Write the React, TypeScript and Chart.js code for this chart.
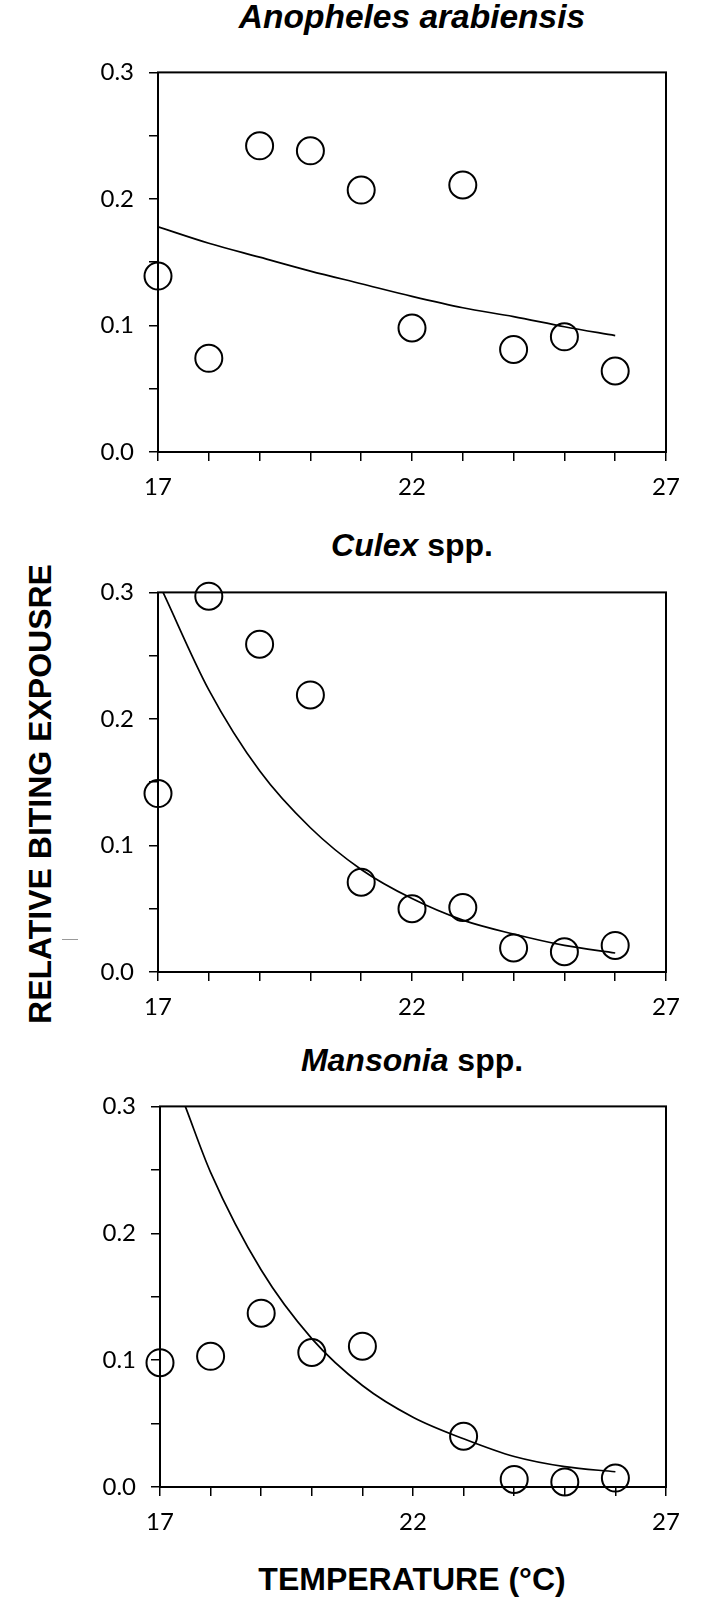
import React, { useEffect, useRef } from "react";
import { Chart, registerables } from "chart.js";

Chart.register(...registerables);

// ---- data ----
const TEMPS = [17, 18, 19, 20, 21, 22, 23, 24, 25, 26];

const ANOPHELES_VALUES = [0.139, 0.074, 0.242, 0.238, 0.207, 0.098, 0.211, 0.081, 0.091, 0.064];
const ANOPHELES_FIT_X = [17, 18, 19, 20, 21, 22, 23, 24, 25, 26];
const ANOPHELES_FIT_Y = [0.178, 0.165, 0.154, 0.143, 0.133, 0.123, 0.114, 0.107, 0.099, 0.092];

const CULEX_VALUES = [0.141, 0.297, 0.259, 0.219, 0.071, 0.05, 0.051, 0.019, 0.016, 0.021];
const CULEX_FIT_X = [17.1, 18, 19, 20, 21, 22, 23, 24, 25, 26];
const CULEX_FIT_Y = [0.3, 0.223, 0.159, 0.114, 0.081, 0.058, 0.041, 0.03, 0.021, 0.015];

const MANSONIA_TEMPS = [17, 18, 19, 20, 21, 23, 24, 25, 26];
const MANSONIA_VALUES = [0.098, 0.103, 0.137, 0.106, 0.111, 0.04, 0.006, 0.004, 0.007];
const MANSONIA_FIT_X = [17.5, 18, 19, 20, 21, 22, 23, 24, 25, 26];
const MANSONIA_FIT_Y = [0.3, 0.248, 0.171, 0.117, 0.08, 0.055, 0.038, 0.024, 0.016, 0.012];

const X_TICK_LABELS = [17, 22, 27];
const Y_TICK_LABELS = [0, 0.1, 0.2, 0.3];

const X_MIN = 17;
const X_MAX = 27;
const Y_MIN = 0;
const Y_MAX = 0.3;

const TICK_FONT = "Lato";
const TITLE_FONT = "'Liberation Sans', Arial, sans-serif";

const framePlugin = {
  id: "frameBox",
  afterDatasetsDraw(chart: any) {
    const { ctx, chartArea } = chart;
    ctx.save();
    ctx.strokeStyle = "#000";
    ctx.lineWidth = 2;
    ctx.strokeRect(
      chartArea.left,
      chartArea.top,
      chartArea.right - chartArea.left,
      chartArea.bottom - chartArea.top
    );
    ctx.restore();
  },
};

type PanelProps = {
  xs: number[];
  ys: number[];
  fitX: number[];
  fitY: number[];
  top: number;
  plotLeft: number;
  plotRight: number;
  plotHeight: number;
};

const PAD_TOP = 24;
const X_AXIS_H = 52;
const Y_AXIS_W = 80;
const CANVAS_W = 709;

function Panel({ xs, ys, fitX, fitY, top, plotLeft, plotRight, plotHeight }: PanelProps) {
  const ref = useRef<HTMLCanvasElement | null>(null);
  const height = PAD_TOP + plotHeight + X_AXIS_H;

  useEffect(() => {
    if (!ref.current) return;
    const points = xs.map((x, i) => ({ x, y: ys[i] }));
    const fit = fitX.map((x, i) => ({ x, y: fitY[i] }));
    const pad = {
      left: plotLeft - Y_AXIS_W,
      right: CANVAS_W - plotRight,
      top: PAD_TOP,
      bottom: 0,
    };
    const chart = new Chart(ref.current, {
      type: "scatter",
      data: {
        datasets: [
          {
            data: fit,
            showLine: true,
            borderColor: "#000",
            borderWidth: 1.7,
            pointRadius: 0,
            pointHoverRadius: 0,
            cubicInterpolationMode: "monotone",
            fill: false,
          } as any,
          {
            data: points,
            showLine: false,
            pointRadius: 13.5,
            pointHoverRadius: 13.5,
            pointBorderColor: "#000",
            pointBorderWidth: 2,
            pointBackgroundColor: "rgba(0,0,0,0)",
            clip: false,
          } as any,
        ],
      },
      options: {
        animation: false,
        responsive: false,
        maintainAspectRatio: false,
        events: [],
        layout: { padding: { ...pad } },
        plugins: {
          legend: { display: false },
          tooltip: { enabled: false },
          title: { display: false },
        },
        scales: {
          x: {
            type: "linear",
            min: X_MIN,
            max: X_MAX,
            afterFit(scale: any) {
              scale.height = X_AXIS_H;
            },
            border: { display: false },
            grid: {
              display: true,
              drawOnChartArea: false,
              drawTicks: true,
              tickLength: 9,
              color: "#000",
              lineWidth: 1.5,
            },
            ticks: {
              stepSize: 1,
              autoSkip: false,
              maxRotation: 0,
              padding: 12,
              color: "#000",
              font: { family: TICK_FONT, size: 24 },
              callback(value: any) {
                const v = Number(value);
                return X_TICK_LABELS.some((t) => Math.abs(t - v) < 1e-6) ? String(Math.round(v)) : "";
              },
            },
          },
          y: {
            type: "linear",
            min: Y_MIN,
            max: Y_MAX,
            afterFit(scale: any) {
              scale.width = Y_AXIS_W;
            },
            border: { display: false },
            grid: {
              display: true,
              drawOnChartArea: false,
              drawTicks: true,
              tickLength: 9,
              color: "#000",
              lineWidth: 1.5,
            },
            ticks: {
              stepSize: 0.05,
              autoSkip: false,
              padding: 15,
              color: "#000",
              font: { family: TICK_FONT, size: 24 },
              callback(value: any) {
                const v = Number(value);
                return Y_TICK_LABELS.some((t) => Math.abs(t - v) < 1e-6) ? v.toFixed(1) : "";
              },
            },
          },
        },
      } as any,
      plugins: [framePlugin],
    });

    // place the plot area exactly where the reference has it
    for (let k = 0; k < 3; k++) {
      const ca = chart.chartArea;
      const wantBottom = PAD_TOP + plotHeight;
      const dTop = PAD_TOP - ca.top;
      const dLeft = plotLeft - ca.left;
      const dRight = ca.right - plotRight;
      const dBottom = ca.bottom - wantBottom;
      if (Math.abs(dTop) < 0.5 && Math.abs(dLeft) < 0.5 && Math.abs(dRight) < 0.5 && Math.abs(dBottom) < 0.5) break;
      pad.top += dTop;
      pad.left += dLeft;
      pad.right += dRight;
      pad.bottom += dBottom;
      (chart.options as any).layout.padding = { ...pad };
      chart.update();
    }

    return () => chart.destroy();
  }, []);

  return (
    <canvas
      ref={ref}
      width={CANVAS_W}
      height={height}
      style={{
        position: "absolute",
        left: 0,
        top: top - PAD_TOP,
        width: CANVAS_W,
        height,
      }}
    />
  );
}

const titleStyle: React.CSSProperties = {
  position: "absolute",
  left: 412,
  transform: "translateX(-50%)",
  whiteSpace: "nowrap",
  fontFamily: TITLE_FONT,
  fontWeight: "bold",
  fontSize: 32,
  lineHeight: "32px",
  color: "#000",
};

export default function App() {
  useEffect(() => {
    document.body.style.margin = "0";
  }, []);

  return (
    <div style={{ position: "relative", width: 709, height: 1600, background: "#fff", overflow: "hidden" }}>
      <div style={{ ...titleStyle, top: 0, fontSize: 33.5, lineHeight: "34px" }}>
        <i>Anopheles arabiensis</i>
      </div>
      <div style={{ ...titleStyle, top: 529 }}>
        <i>Culex</i> spp.
      </div>
      <div style={{ ...titleStyle, top: 1044 }}>
        <i>Mansonia</i> spp.
      </div>
      <div style={{ ...titleStyle, top: 1563 }}>TEMPERATURE (°C)</div>
      <div
        style={{
          position: "absolute",
          left: 40,
          top: 794,
          transform: "translate(-50%, -50%) rotate(-90deg)",
          whiteSpace: "nowrap",
          fontFamily: TITLE_FONT,
          fontWeight: "bold",
          fontSize: 32,
          lineHeight: "33px",
          color: "#000",
        }}
      >
        RELATIVE BITING EXPOUSRE
      </div>
      <div style={{ position: "absolute", left: 62, top: 939, width: 16, height: 1, background: "#999" }} />

      <Panel
        xs={TEMPS}
        ys={ANOPHELES_VALUES}
        fitX={ANOPHELES_FIT_X}
        fitY={ANOPHELES_FIT_Y}
        top={67}
        plotLeft={158}
        plotRight={666}
        plotHeight={385}
      />
      <Panel
        xs={TEMPS}
        ys={CULEX_VALUES}
        fitX={CULEX_FIT_X}
        fitY={CULEX_FIT_Y}
        top={587}
        plotLeft={158}
        plotRight={666}
        plotHeight={385}
      />
      <Panel
        xs={MANSONIA_TEMPS}
        ys={MANSONIA_VALUES}
        fitX={MANSONIA_FIT_X}
        fitY={MANSONIA_FIT_Y}
        top={1101}
        plotLeft={160}
        plotRight={666}
        plotHeight={386}
      />
    </div>
  );
}
